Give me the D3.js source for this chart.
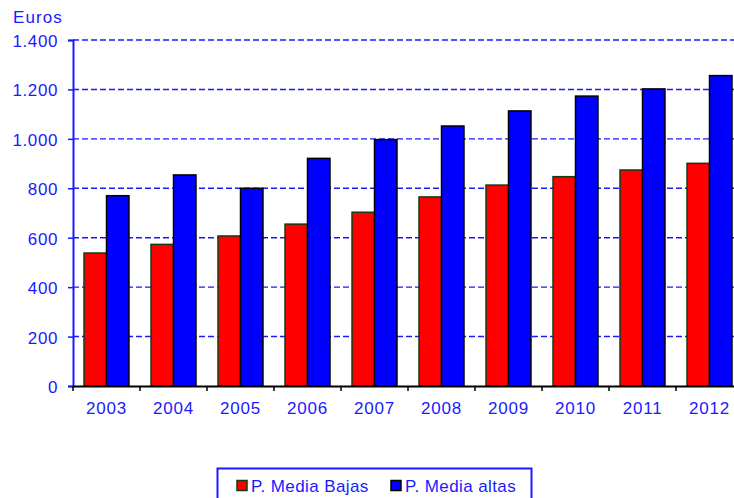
<!DOCTYPE html>
<html><head><meta charset="utf-8">
<script src="https://cdn.jsdelivr.net/npm/d3@7"></script>
<style>
html,body{margin:0;padding:0;background:#fff;overflow:hidden;}
text{font-family:Arial,"Liberation Sans",sans-serif;}
</style></head>
<body><svg id="c" width="734" height="498"></svg>
<script>
const years = ["2003","2004","2005","2006","2007","2008","2009","2010","2011","2012"];
const bajas = [538, 573, 607, 655, 703, 765, 813, 847, 874, 901];
const altas = [770, 854, 800, 921, 997, 1052, 1113, 1173, 1202, 1256];
const seriesNames = ["P. Media Bajas", "P. Media altas"];
const seriesColors = ["#ff0000", "#0000ff"];
const seriesStroke = ["#143a14", "#000000"];
const yTicks = [0, 200, 400, 600, 800, 1000, 1200, 1400];
const yTickLabels = ["0", "200", "400", "600", "800", "1.000", "1.200", "1.400"];

(function () {
const svg = d3.select("#c");
const mLeft = 73, mRight = 743, mTop = 40, mBottom = 386;
const blue = "#1a1aff";
const fam = "Arial, 'Liberation Sans', sans-serif";

const x = d3.scaleBand().domain(years).range([mLeft, mRight]).paddingInner(0).paddingOuter(0);
const xs = d3.scaleBand().domain([0, 1]).range([0, x.bandwidth()]).paddingInner(0).paddingOuter(0.49);
const y = d3.scaleLinear().domain([0, 1400]).range([mBottom, mTop]);

// gridlines
svg.append("g").selectAll("line").data(yTicks.filter(d => d > 0)).join("line")
  .attr("x1", mLeft).attr("x2", 734)
  .attr("y1", d => y(d)).attr("y2", d => y(d))
  .attr("stroke", blue).attr("stroke-width", 1.4)
  .attr("stroke-dasharray", "6,3");

// bars
const data = years.map((yr, i) => ({yr, vals: [bajas[i], altas[i]]}));
const g = svg.append("g");
data.forEach(d => {
  d.vals.forEach((v, s) => {
    g.append("rect")
      .attr("x", x(d.yr) + xs(s))
      .attr("y", y(v))
      .attr("width", xs.bandwidth())
      .attr("height", y(0) - y(v))
      .attr("fill", seriesColors[s])
      .attr("stroke", seriesStroke[s])
      .attr("stroke-width", 1.5);
  });
});

// y axis
const yAxis = d3.axisLeft(y).tickValues(yTicks)
  .tickFormat((d, i) => yTickLabels[i]).tickSize(5).tickPadding(10);
const ya = svg.append("g").attr("transform", `translate(${mLeft},0)`).call(yAxis);
ya.select(".domain").attr("stroke", blue).attr("stroke-width", 2);
ya.selectAll(".tick line").attr("stroke", blue).attr("stroke-width", 1.5);
ya.selectAll(".tick text").attr("fill", blue).attr("font-size", 17)
  .attr("font-family", fam)
  .style("letter-spacing", "0.6px").attr("dy", "0.38em");

// x axis
const xAxis = d3.axisBottom(x).tickSize(0).tickPadding(16);
const xa = svg.append("g").attr("transform", `translate(0,${mBottom})`).call(xAxis);
xa.select(".domain").attr("stroke", "#000").attr("stroke-width", 2);
xa.selectAll(".tick text").attr("fill", blue).attr("font-size", 17)
  .attr("font-family", fam)
  .style("letter-spacing", "0.8px");
// x tick marks at band boundaries
svg.append("g").selectAll("line").data(years).join("line")
  .attr("x1", d => x(d)).attr("x2", d => x(d))
  .attr("y1", mBottom).attr("y2", mBottom + 5)
  .attr("stroke", "#000").attr("stroke-width", 1.5);

// title
svg.append("text").attr("x", 13).attr("y", 23).text("Euros")
  .attr("fill", blue).attr("font-size", 17).style("letter-spacing", "1.1px");

// legend
const lg = svg.append("g");
lg.append("rect").attr("x", 217.5).attr("y", 468.5).attr("width", 314).attr("height", 40)
  .attr("fill", "#fff").attr("stroke", blue).attr("stroke-width", 2);
const legX = [237, 391];
seriesNames.forEach((n, i) => {
  lg.append("rect").attr("x", legX[i]).attr("y", 480.5).attr("width", 10).attr("height", 10)
    .attr("fill", seriesColors[i]).attr("stroke", seriesStroke[i]).attr("stroke-width", 1.5);
  lg.append("text").attr("x", legX[i] + 14).attr("y", 492).text(n)
    .attr("fill", blue).attr("font-size", 17).style("letter-spacing", "0.4px");
});
})();
</script></body></html>
